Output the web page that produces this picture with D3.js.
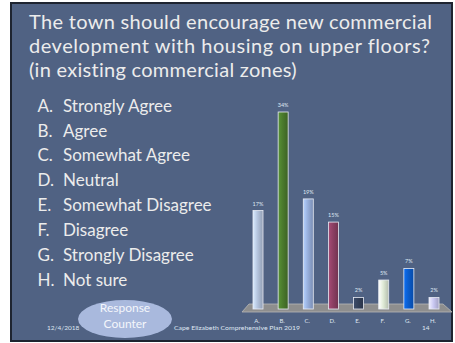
<!DOCTYPE html>
<html><head><meta charset="utf-8">
<script src="https://cdn.jsdelivr.net/npm/d3@7"></script>
<style>html,body{margin:0;padding:0;background:#fff;}svg{display:block;}</style>
</head><body>
<svg id="c" width="455" height="343"></svg>
<script>
const titleLines = ["The town should encourage new commercial","development with housing on upper floors?","(in existing commercial zones)"];
const categories = ["A.","B.","C.","D.","E.","F.","G.","H."];
const answers = ["Strongly Agree","Agree","Somewhat Agree","Neutral","Somewhat Disagree","Disagree","Strongly Disagree","Not sure"];
const values = [17,34,19,15,2,5,7,2];
const barColors = ["#b4c4de","#4a7a2c","#97afdc","#8c3f63","#34415a","#dfead6","#0a5ccc","#c9c8f2"];
const footerDate = "12/4/2018";
const footerText = "Cape Elizabeth Comprehensive Plan 2019";
const pageNum = "14";

const svg = d3.select("#c");
const bg = "#506283";
svg.append("rect").attr("x",11).attr("y",3).attr("width",441).attr("height",338)
  .attr("fill",bg).attr("stroke","#1e2430").attr("stroke-width",2);

const txt = "#ececec";
const font = "Lato, 'Open Sans', sans-serif";
const tw = [403,401,268];
titleLines.forEach((t,i)=>{
  const el = svg.append("text").attr("x",29).attr("y",29+24*i).attr("fill",txt)
    .attr("font-family",font).attr("font-size",20).text(t);
  const n = el.node().getComputedTextLength();
  const ls = (tw[i]-n)/(t.length-1);
  el.attr("letter-spacing", ls.toFixed(2));
});
answers.forEach((a,i)=>{
  const y = 111.7 + 24.86*i;
  svg.append("text").attr("x",37.5).attr("y",y).attr("fill",txt)
    .attr("font-family",font).attr("font-size",17).text(categories[i]);
  svg.append("text").attr("x",63).attr("y",y).attr("fill",txt)
    .attr("font-family",font).attr("font-size",17).text(a);
});

// chart
const x = d3.scalePoint().domain(categories).range([258,434]);
const y = d3.scaleLinear().domain([0,34]).range([309,112]);
const bw = 10;
const defs = svg.append("defs");
barColors.forEach((c,i)=>{
  const g = defs.append("linearGradient").attr("id","g"+i).attr("x1","0").attr("x2","1").attr("y1","0").attr("y2","0");
  g.append("stop").attr("offset","0").attr("stop-color",d3.color(c).brighter(0.5));
  g.append("stop").attr("offset","0.45").attr("stop-color",c);
  g.append("stop").attr("offset","1").attr("stop-color",d3.color(c).darker(0.6));
});
// floor
const x0 = x.range()[0]-16, x1 = x.range()[1]+18;
svg.append("path").attr("d",`M${x0},312 L${x0+7},304 L${x1-9},304 L${x1},312 Z`)
  .attr("fill","#8e8e8e").attr("stroke","#b8b8b8").attr("stroke-width",0.8);

const bars = svg.append("g");
categories.forEach((c,i)=>{
  const cx = x(c), top = y(values[i]);
  bars.append("rect").attr("x",cx-bw/2).attr("y",top).attr("width",bw).attr("height",y(0)-top)
    .attr("fill",`url(#g${i})`).attr("stroke","#e8ecf4").attr("stroke-width",0.8);
  bars.append("text").attr("x",cx).attr("y",top-5).attr("text-anchor","middle")
    .attr("fill","#dfe6f2").attr("font-family",font).attr("font-size",5.5).text(values[i]+"%");
  bars.append("text").attr("x",cx-1).attr("y",323).attr("text-anchor","middle")
    .attr("fill","#dfe6f2").attr("font-family",font).attr("font-size",6).text(c);
});

// response counter
svg.append("ellipse").attr("cx",125).attr("cy",319).attr("rx",47).attr("ry",19).attr("fill","#a9b9dd");
svg.append("text").attr("x",125).attr("y",312).attr("text-anchor","middle").attr("fill","#f4f6fb")
  .attr("font-family",font).attr("font-size",12).text("Response");
svg.append("text").attr("x",125).attr("y",327.5).attr("text-anchor","middle").attr("fill","#f4f6fb")
  .attr("font-family",font).attr("font-size",12).text("Counter");
svg.append("text").attr("x",47).attr("y",330).attr("fill","#dfe6f2").attr("font-family",font).attr("font-size",6.5).text(footerDate);
svg.append("text").attr("x",174).attr("y",330).attr("fill","#dfe6f2").attr("font-family",font).attr("font-size",6.5)
  .attr("textLength",126).attr("lengthAdjust","spacingAndGlyphs").text(footerText);
svg.append("text").attr("x",422).attr("y",330).attr("fill","#dfe6f2").attr("font-family",font).attr("font-size",6.5).text(pageNum);
</script>
</body></html>
